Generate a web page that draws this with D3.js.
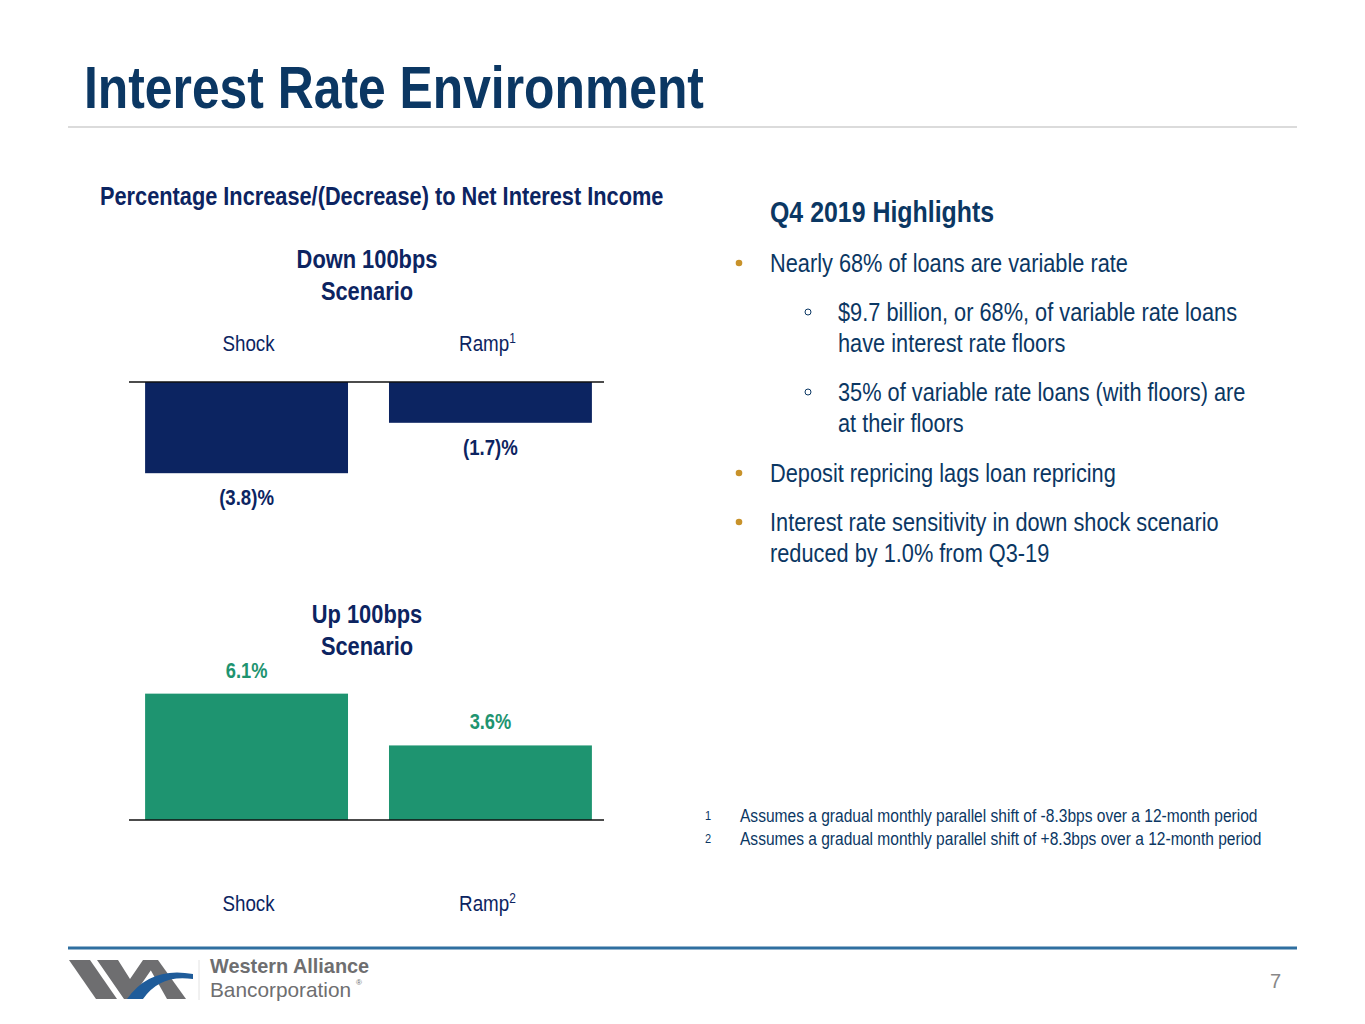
<!DOCTYPE html>
<html><head><meta charset="utf-8">
<script src="https://cdn.jsdelivr.net/npm/d3@7"></script>
<style>
html,body{margin:0;padding:0;background:#fff;}
svg{display:block;}
text{font-family:"Liberation Sans Narrow","Liberation Sans",Arial,sans-serif;}
</style></head>
<body>
<svg id="c" width="1365" height="1024"></svg>
<script>
// ---- data ----
const categories = ["Shock", "Ramp"];
const footnoteMarks = ["1", "2"];
const downValues = [-3.8, -1.7];
const upValues = [6.1, 3.6];
const highlights = [
  {level: 0, lines: ["Nearly 68% of loans are variable rate"]},
  {level: 1, lines: ["$9.7 billion, or 68%, of variable rate loans", "have interest rate floors"]},
  {level: 1, lines: ["35% of variable rate loans (with floors) are", "at their floors"]},
  {level: 0, lines: ["Deposit repricing lags loan repricing"]},
  {level: 0, lines: ["Interest rate sensitivity in down shock scenario", "reduced by 1.0% from Q3-19"]}
];
const footnotes = [
  "Assumes a gradual monthly parallel shift of -8.3bps over a 12-month period",
  "Assumes a gradual monthly parallel shift of +8.3bps over a 12-month period"
];

const NAVY = "#0c2461", TITLE = "#0b3763", GREEN = "#1e9470", GOLD = "#c8922a";
const svg = d3.select("#c");
const fmt = v => v < 0 ? "(" + d3.format(".1f")(-v) + ")%" : d3.format(".1f")(v) + "%";
const K = 0.85; // horizontal condensing to mimic a narrow typeface

// narrow text helper
function ntext(parent, x, y, str, o) {
  o = o || {};
  const t = parent.append("text")
    .attr("transform", `translate(${x},${y}) scale(${K},1)`)
    .attr("font-size", o.size || 20)
    .attr("font-weight", o.bold ? "bold" : "normal")
    .attr("fill", o.fill || NAVY)
    .attr("text-anchor", o.anchor || "start");
  if (str !== null) t.text(str);
  return t;
}

// ---- header ----
ntext(svg, 84, 108, "Interest Rate Environment", {size: 58.6, bold: true, fill: TITLE});
svg.append("line").attr("x1", 68).attr("x2", 1297).attr("y1", 127).attr("y2", 127)
  .attr("stroke", "#cfcfcf").attr("stroke-width", 1.5);
ntext(svg, 100, 205, "Percentage Increase/(Decrease) to Net Interest Income", {size: 25.6, bold: true});

// ---- scales ----
const x = d3.scaleBand().domain(categories).range([129, 608]).paddingInner(0.168).paddingOuter(0.066);
const yDown = d3.scaleLinear().domain([0, -5]).range([382, 502]);
const yUp = d3.scaleLinear().domain([0, 7]).range([820, 675]);

function titleBlock(cy, l1, l2) {
  ntext(svg, 367, cy, l1, {size: 25.7, bold: true, anchor: "middle"});
  ntext(svg, 367, cy + 32, l2, {size: 25.7, bold: true, anchor: "middle"});
}
function catLabels(y, supIdx) {
  categories.forEach((c, i) => {
    const t = ntext(svg, x(c) + x.bandwidth() / 2 + (i === 1 ? -3 : 2), y, null, {size: 22.1, anchor: "middle"});
    t.append("tspan").text(c);
    if (i === 1) t.append("tspan").attr("font-size", 14).attr("dy", -8).text(footnoteMarks[supIdx]);
  });
}

// Down chart
titleBlock(268, "Down 100bps", "Scenario");
catLabels(351, 0);
svg.append("g").selectAll("rect").data(downValues).join("rect")
  .attr("x", (d, i) => x(categories[i])).attr("width", x.bandwidth())
  .attr("y", yDown(0)).attr("height", d => yDown(d) - yDown(0)).attr("fill", NAVY);
svg.append("line").attr("x1", 129).attr("x2", 604).attr("y1", yDown(0)).attr("y2", yDown(0))
  .attr("stroke", "#111").attr("stroke-width", 1.5);
downValues.forEach((d, i) => {
  ntext(svg, x(categories[i]) + x.bandwidth() / 2, yDown(d) + 32, fmt(d), {size: 21.9, bold: true, anchor: "middle"});
});

// Up chart
titleBlock(623, "Up 100bps", "Scenario");
svg.append("g").selectAll("rect").data(upValues).join("rect")
  .attr("x", (d, i) => x(categories[i])).attr("width", x.bandwidth())
  .attr("y", d => yUp(d)).attr("height", d => yUp(0) - yUp(d)).attr("fill", GREEN);
svg.append("line").attr("x1", 129).attr("x2", 604).attr("y1", yUp(0)).attr("y2", yUp(0))
  .attr("stroke", "#111").attr("stroke-width", 1.5);
upValues.forEach((d, i) => {
  ntext(svg, x(categories[i]) + x.bandwidth() / 2, yUp(d) - 16, fmt(d), {size: 21.5, bold: true, anchor: "middle", fill: GREEN});
});
catLabels(911, 1);

// ---- highlights ----
ntext(svg, 770, 222, "Q4 2019 Highlights", {size: 29.3, bold: true, fill: TITLE});
const startY = [272, 321, 401, 482, 531];
highlights.forEach((h, i) => {
  const tx = h.level === 0 ? 770 : 838;
  if (h.level === 0) {
    svg.append("circle").attr("cx", 739).attr("cy", startY[i] - 9).attr("r", 3.3).attr("fill", GOLD);
  } else {
    svg.append("circle").attr("cx", 808).attr("cy", startY[i] - 9).attr("r", 3).attr("fill", "none")
      .attr("stroke", TITLE).attr("stroke-width", 1);
  }
  h.lines.forEach((ln, j) => {
    ntext(svg, tx, startY[i] + j * 31, ln, {size: 25.6, fill: TITLE});
  });
});

// ---- footnotes ----
footnotes.forEach((f, i) => {
  ntext(svg, 705, 820 + i * 23, footnoteMarks[i], {size: 13, fill: TITLE});
  ntext(svg, 740, 822 + i * 23, f, {size: 18.3, fill: TITLE});
});

// ---- footer ----
svg.append("line").attr("x1", 68).attr("x2", 1297).attr("y1", 948).attr("y2", 948)
  .attr("stroke", "#2f6fa0").attr("stroke-width", 3);
svg.append("text").attr("x", 1281).attr("y", 988).attr("text-anchor", "end").attr("font-size", 20)
  .attr("fill", "#888").text("7");

const logo = svg.append("g");
const GRAY = "#6e6e70";
logo.append("polygon").attr("points", "69,960 90,960 117,999 96,999").attr("fill", GRAY);
logo.append("polygon").attr("points", "97,960 118,960 130,979 143,960 158,960 131,999 124,999").attr("fill", GRAY);
logo.append("polygon").attr("points", "145,960 158,960 186,999 167,999").attr("fill", GRAY);
logo.append("path").attr("d", "M127,999 Q150,966 193,974 L193,979 Q160,974 143,999 Z").attr("fill", "#1f5c9a");
logo.append("line").attr("x1", 199).attr("x2", 199).attr("y1", 960).attr("y2", 1000).attr("stroke", "#e2e2e2");
logo.append("text").attr("x", 210).attr("y", 973).attr("font-family", "Liberation Sans, Arial, sans-serif")
  .attr("font-size", 19.9).attr("font-weight", "bold").attr("fill", GRAY).text("Western Alliance");
logo.append("text").attr("x", 210).attr("y", 997).attr("font-family", "Liberation Sans, Arial, sans-serif")
  .attr("font-size", 20.8).attr("fill", GRAY).text("Bancorporation");
logo.append("text").attr("x", 356).attr("y", 985).attr("font-family", "Liberation Sans, Arial, sans-serif")
  .attr("font-size", 8).attr("fill", GRAY).text("®");
</script>
</body></html>
